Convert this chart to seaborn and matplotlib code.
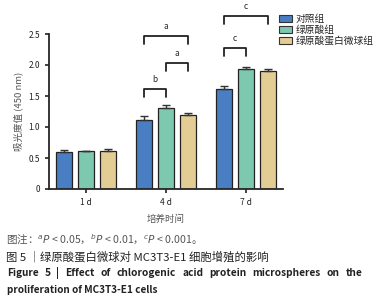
import numpy as np
import pandas as pd
import seaborn as sns
import matplotlib.pyplot as plt

# datos
dias = ["1 d", "4 d", "7 d"]
grupos = ["对照组", "绿原酸组", "绿原酸蛋白微球组"]
media = {
    "对照组": [0.60, 1.11, 1.62],
    "绿原酸组": [0.61, 1.31, 1.93],
    "绿原酸蛋白微球组": [0.62, 1.20, 1.91],
}
error = {
    "对照组": [0.03, 0.06, 0.04],
    "绿原酸组": [0.01, 0.04, 0.03],
    "绿原酸蛋白微球组": [0.02, 0.02, 0.03],
}
colores = ["#4A7EC2", "#7DC9AF", "#E3CD95"]

# corchetes de significancia: (dia, grupo_a, grupo_b, altura, etiqueta)
corchetes = [
    (1, 0, 1, 1.61, "b"),
    (1, 1, 2, 2.03, "a"),
    (1, 0, 2, 2.47, "a"),
    (2, 0, 1, 2.27, "c"),
    (2, 0, 2, 2.79, "c"),
]

df = pd.DataFrame({
    "dia": dias * 3,
    "grupo": np.repeat(grupos, 3),
    "valor": media[grupos[0]] + media[grupos[1]] + media[grupos[2]],
})

sns.set_style("ticks")
plt.rcParams["font.family"] = ["Noto Sans CJK SC", "DejaVu Sans"]

fig = plt.figure(figsize=(3.82, 3.0), dpi=100)
ax = fig.add_axes([49 / 382, 1 - 189 / 300, 234 / 382, 155 / 300])

sns.barplot(data=df, x="dia", y="valor", hue="grupo", hue_order=grupos,
            palette=colores, saturation=1, width=0.825, gap=0.27,
            edgecolor="#222222", linewidth=0.9, errorbar=None, legend=False, ax=ax)

# barras de error (solo hacia arriba) y centros
centros = {}
for i, g in enumerate(grupos):
    for j in range(len(dias)):
        p = ax.patches[i * len(dias) + j]
        cx = p.get_x() + p.get_width() / 2
        centros[(j, i)] = cx
        ax.errorbar(cx, media[g][j], yerr=[[0], [error[g][j]]], fmt="none",
                    ecolor="#333333", elinewidth=1.0, capsize=3, capthick=1.0)

for d, a, b, h, lab in corchetes:
    xa, xb = centros[(d, a)], centros[(d, b)]
    ax.plot([xa, xa, xb, xb], [h - 0.13, h, h, h - 0.13], color="#222222",
            lw=1.3, clip_on=False)
    ax.text((xa + xb) / 2, h + 0.08, lab, ha="center", va="bottom",
            fontsize=6, clip_on=False)

ax.set_xlim(-0.4625, 2.4625)
ax.set_ylim(0, 2.5)
ax.set_yticks([0, 0.5, 1.0, 1.5, 2.0, 2.5])
ax.set_yticklabels(["0", "0.5", "1.0", "1.5", "2.0", "2.5"])
ax.tick_params(labelsize=6, width=1.2, length=3, colors="#222222")
for s in ["left", "bottom"]:
    ax.spines[s].set_linewidth(1.3)
sns.despine(ax=ax)
ax.set_xlabel("培养时间", fontsize=6.8, color="#555555", labelpad=5)
ax.set_ylabel("吸光度值 (450 nm)", fontsize=6.8, color="#555555", labelpad=4)

handles = [plt.Rectangle((0, 0), 1, 1, facecolor=c, edgecolor="#333333", lw=0.8)
           for c in colores]
fig.legend(handles, grupos, loc="upper left", bbox_to_anchor=(274 / 382, 1 - 9 / 300),
           frameon=False, fontsize=7, handlelength=1.4, handleheight=0.7,
           handletextpad=0.3, labelspacing=0.1, borderpad=0)

# leyenda de la figura
fig.text(6 / 382, 1 - 240 / 300,
         r"图注：$^{a}$$\it{P}$ < 0.05，$^{b}$$\it{P}$ < 0.01，$^{c}$$\it{P}$ < 0.001。",
         fontsize=7.6, color="#555555", va="center")
fig.text(6 / 382, 1 - 257 / 300, "图 5 ｜绿原酸蛋白微球对 MC3T3-E1 细胞增殖的影响",
         fontsize=8.2, color="#222222", va="center")

# linea justificada como en el original
palabras = ["Figure", "5", "|", "Effect", "of", "chlorogenic", "acid", "protein",
            "microspheres", "on", "the"]
renderer = fig.canvas.get_renderer()
objs = [fig.text(0, 1 - 273 / 300, w, fontsize=7.3, color="#222222", va="center",
                 fontweight="bold") for w in palabras]
anchos = [t.get_window_extent(renderer).width for t in objs]
x0, x1 = 7, 362
hueco = (x1 - x0 - sum(anchos)) / (len(palabras) - 1)
x = x0
for t, w in zip(objs, anchos):
    t.set_x(x / 382)
    x += w + hueco

fig.text(7 / 382, 1 - 290 / 300, "proliferation of MC3T3-E1 cells",
         fontsize=7.2, color="#222222", va="center", fontweight="bold")

fig.savefig("out.png", dpi=100)
